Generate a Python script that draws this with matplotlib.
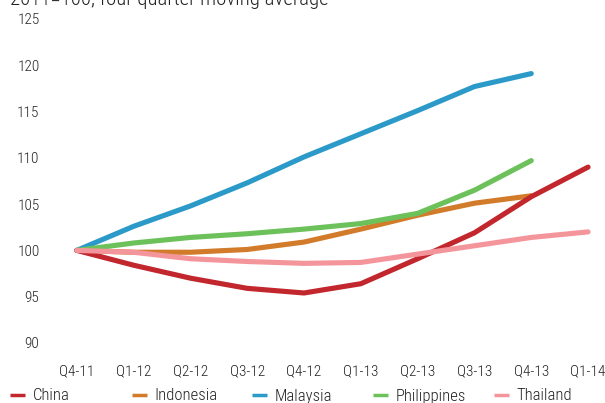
import matplotlib
matplotlib.use("Agg")
import matplotlib.pyplot as plt

# === DATA ===
quarters = ["Q4-11", "Q1-12", "Q2-12", "Q3-12", "Q4-12",
            "Q1-13", "Q2-13", "Q3-13", "Q4-13", "Q1-14"]

china = [100, 98.4, 97.0, 95.9, 95.4, 96.4, 99.1, 101.9, 105.8, 109.0]
indonesia = [100, 99.8, 99.8, 100.1, 100.9, 102.3, 103.8, 105.1, 105.9]
malaysia = [100, 102.6, 104.8, 107.3, 110.1, 112.6, 115.1, 117.7, 119.1]
philippines = [100, 100.8, 101.4, 101.8, 102.3, 102.9, 104.0, 106.5, 109.7]
thailand = [100, 99.8, 99.1, 98.8, 98.6, 98.7, 99.6, 100.5, 101.4, 102.0]

series = [
    ("China", china, "#c1272d"),
    ("Indonesia", indonesia, "#d17b2b"),
    ("Malaysia", malaysia, "#2b9ac8"),
    ("Philippines", philippines, "#6cc15a"),
    ("Thailand", thailand, "#f4959c"),
]
# drawing order (which line sits on top where they cross)
draw_order = ["Indonesia", "Malaysia", "Philippines", "China", "Thailand"]

plt.rcParams["font.family"] = ["Roboto Condensed", "DejaVu Sans"]
plt.rcParams["font.weight"] = 300

W, H = 605, 403
fig = plt.figure(figsize=(W / 100, H / 100), dpi=100)
ax = fig.add_axes([45 / W, 1 - 355 / H, (600 - 45) / W, (355 - 10) / H])

lines = {}
for name, vals, col in series:
    ln, = ax.plot(range(len(vals)), vals, color=col, lw=3.7,
                  solid_capstyle="round", solid_joinstyle="round", label=name,
                  zorder=2 + draw_order.index(name))
    lines[name] = ln

ax.set_xlim(-0.56, 9.21)
ax.set_ylim(88.7, 125.97)
ax.set_xticks(range(len(quarters)))
ax.set_xticklabels(quarters)
ax.set_yticks(range(90, 126, 5))
for s in ax.spines.values():
    s.set_visible(False)
ax.tick_params(length=0, labelsize=11, colors="#222222")
ax.tick_params(axis="x", pad=7)
ax.tick_params(axis="y", pad=4)

# subtitle, cut off at the top like the source
fig.text(10 / W, 1 - 5 / H, "2011=100, four quarter moving average",
         fontsize=15, color="#222222", va="baseline", ha="left")

# legend: evenly spaced entries
xs = [10, 132, 252, 373, 494]
for (name, _, _), x in zip(series, xs):
    leg = fig.legend(handles=[lines[name]], loc="center left",
                     bbox_to_anchor=(x / W, 1 - 396 / H), frameon=False,
                     fontsize=12, handlelength=0.9, handletextpad=0.45,
                     borderaxespad=0, borderpad=0)
    for t in leg.get_texts():
        t.set_color("#222222")
    for h in leg.legend_handles:
        h.set_linewidth(2.5)
        h.set_solid_capstyle("butt")

fig.savefig("out.png", dpi=100, facecolor="white")
